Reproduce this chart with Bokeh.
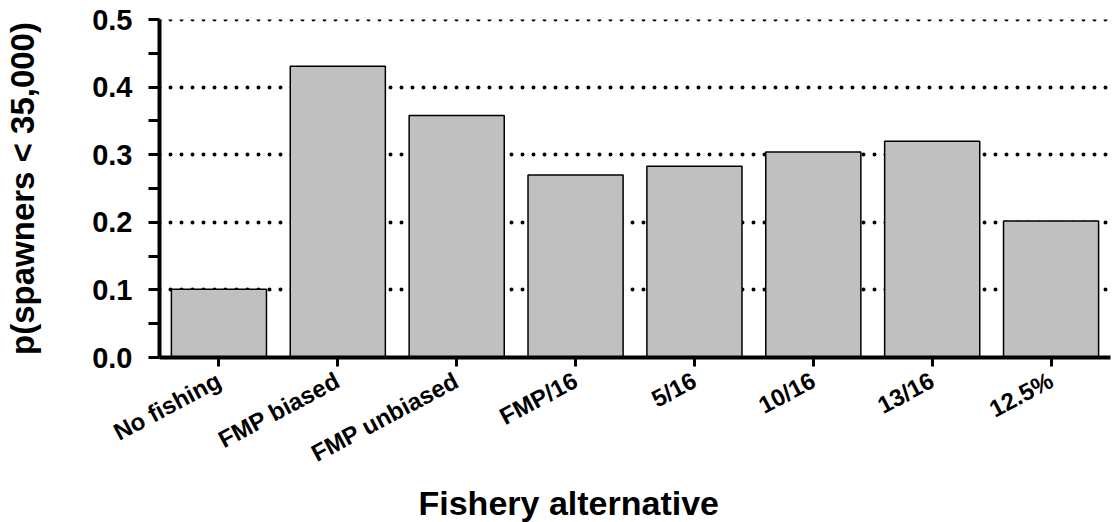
from bokeh.plotting import figure
from bokeh.models import FactorRange, Range1d, FixedTicker, NumeralTickFormatter, Title, Span
from bokeh.embed import file_html
from bokeh.resources import INLINE
import math

categories = ["No fishing", "FMP biased", "FMP unbiased", "FMP/16", "5/16", "10/16", "13/16", "12.5%"]
values = [0.101, 0.431, 0.358, 0.270, 0.283, 0.304, 0.320, 0.202]
y_ticks = [0.0, 0.1, 0.2, 0.3, 0.4, 0.5]
y_minor = [0.05, 0.15, 0.25, 0.35, 0.45]

FONT = "Liberation Sans"

p = figure(width=1112, height=522, output_backend="svg", toolbar_location=None,
           x_range=FactorRange(*categories, range_padding=0), y_range=Range1d(0, 0.5),
           min_border_left=159, min_border_top=19, min_border_bottom=165, min_border_right=2)
p.outline_line_color = None
p.background_fill_color = "white"
p.border_fill_color = "white"

p.vbar(x=categories, top=values, width=0.8, fill_color="#C0C0C0",
       line_color="black", line_width=1.5)

# y axis
ya = p.yaxis[0]
ya.ticker = FixedTicker(ticks=y_ticks, minor_ticks=y_minor)
ya.formatter = NumeralTickFormatter(format="0.0")
ya.axis_line_width = 4
ya.major_tick_line_width = 3
ya.minor_tick_line_width = 3
ya.major_tick_out = 11
ya.major_tick_in = 0
ya.minor_tick_out = 11
ya.minor_tick_in = 0
ya.major_label_standoff = 16
ya.major_label_text_font = FONT
ya.major_label_text_font_style = "bold"
ya.major_label_text_font_size = "29px"
ya.major_label_text_color = "black"
ya.axis_label = "p(spawners < 35,000)"
ya.axis_label_text_font = FONT
ya.axis_label_text_font_style = "bold"
ya.axis_label_text_font_size = "33px"
ya.axis_label_text_color = "black"
ya.axis_label_standoff = 48

# x axis
xa = p.xaxis[0]
xa.axis_line_width = 4
xa.major_tick_line_width = 3
xa.major_tick_out = 9
xa.major_tick_in = 0
xa.minor_tick_line_color = None
xa.major_label_orientation = math.radians(28)
xa.major_label_standoff = 12
xa.major_label_text_font = FONT
xa.major_label_text_font_style = "bold"
xa.major_label_text_font_size = "24px"
xa.major_label_text_color = "black"

# grid
p.xgrid.grid_line_color = None
p.ygrid.ticker = FixedTicker(ticks=y_ticks[1:])
p.ygrid.grid_line_color = "black"
p.ygrid.grid_line_width = 4
p.ygrid.grid_line_dash = "0 11"
p.ygrid.grid_line_cap = "round"

top_line = Span(location=y_ticks[-1], dimension="width", line_color="black", line_width=4,
                line_dash="0 11", line_cap="round", level="underlay")
p.add_layout(top_line)

# x axis title
t = Title(text="Fishery alternative", align="left", offset=259,
          text_font=FONT, text_font_style="bold", text_font_size="34px", text_color="black",
          standoff=0, text_line_height=0.8)
p.add_layout(t, "below")

open("out.html", "w").write(file_html(p, INLINE))
